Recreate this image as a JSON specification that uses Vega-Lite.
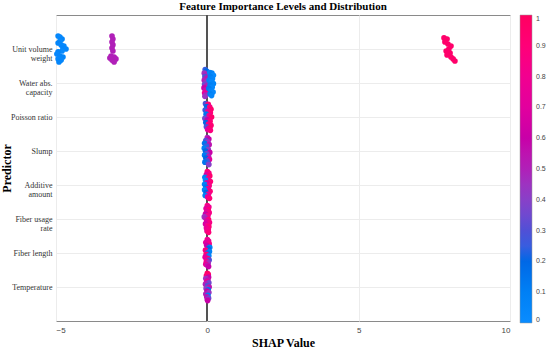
{
  "$schema": "https://vega.github.io/schema/vega-lite/v6.json",
  "width": 454,
  "height": 306,
  "autosize": {"type": "none"},
  "padding": {"left": 56, "top": 15, "right": 40, "bottom": 31},
  "background": "white",
  "title": {"text": "Feature Importance Levels and Distribution", "font": "Liberation Serif", "fontSize": 11, "fontWeight": "bold", "color": "#000", "offset": 3, "anchor": "middle"},
  "config": {
    "view": {"stroke": "#8a8a8a", "strokeWidth": 1},
    "axis": {"domain": false, "ticks": false, "gridColor": "#ececec", "gridWidth": 1}
  },
  "data": {"values": [
    {"f":"Unit volume weight","s":-4.93,"j":-0.93,"v":0.04},{"f":"Unit volume weight","s":-4.87,"j":-0.86,"v":0.03},{"f":"Unit volume weight","s":-4.80,"j":-0.71,"v":0.05},{"f":"Unit volume weight","s":-4.87,"j":-0.57,"v":0.02},{"f":"Unit volume weight","s":-4.93,"j":-0.43,"v":0.06},{"f":"Unit volume weight","s":-4.83,"j":-0.29,"v":0.04},{"f":"Unit volume weight","s":-4.74,"j":-0.21,"v":0.03},{"f":"Unit volume weight","s":-4.77,"j":-0.07,"v":0.05},{"f":"Unit volume weight","s":-4.67,"j":0.0,"v":0.04},{"f":"Unit volume weight","s":-4.80,"j":0.14,"v":0.02},{"f":"Unit volume weight","s":-4.93,"j":0.21,"v":0.05},{"f":"Unit volume weight","s":-4.97,"j":0.36,"v":0.03},{"f":"Unit volume weight","s":-4.87,"j":0.5,"v":0.04},{"f":"Unit volume weight","s":-4.77,"j":0.57,"v":0.06},{"f":"Unit volume weight","s":-4.93,"j":0.71,"v":0.03},{"f":"Unit volume weight","s":-4.83,"j":0.79,"v":0.04},{"f":"Unit volume weight","s":-4.90,"j":0.93,"v":0.05},
    {"f":"Unit volume weight","s":-3.15,"j":-0.93,"v":0.5},{"f":"Unit volume weight","s":-3.12,"j":-0.71,"v":0.5},{"f":"Unit volume weight","s":-3.15,"j":-0.5,"v":0.5},{"f":"Unit volume weight","s":-3.12,"j":-0.29,"v":0.5},{"f":"Unit volume weight","s":-3.15,"j":-0.07,"v":0.5},{"f":"Unit volume weight","s":-3.12,"j":0.14,"v":0.5},{"f":"Unit volume weight","s":-3.18,"j":0.5,"v":0.5},{"f":"Unit volume weight","s":-3.08,"j":0.57,"v":0.5},{"f":"Unit volume weight","s":-3.02,"j":0.71,"v":0.5},{"f":"Unit volume weight","s":-3.15,"j":0.79,"v":0.5},{"f":"Unit volume weight","s":-3.08,"j":0.93,"v":0.5},{"f":"Unit volume weight","s":-3.22,"j":0.64,"v":0.5},
    {"f":"Unit volume weight","s":7.82,"j":-0.79,"v":0.96},{"f":"Unit volume weight","s":7.92,"j":-0.71,"v":0.96},{"f":"Unit volume weight","s":7.85,"j":-0.5,"v":0.96},{"f":"Unit volume weight","s":7.95,"j":-0.36,"v":0.96},{"f":"Unit volume weight","s":8.05,"j":-0.21,"v":0.96},{"f":"Unit volume weight","s":7.98,"j":0.0,"v":0.96},{"f":"Unit volume weight","s":7.89,"j":0.14,"v":0.96},{"f":"Unit volume weight","s":8.02,"j":0.29,"v":0.96},{"f":"Unit volume weight","s":7.92,"j":0.43,"v":0.96},{"f":"Unit volume weight","s":8.05,"j":0.57,"v":0.96},{"f":"Unit volume weight","s":8.12,"j":0.71,"v":0.96},{"f":"Unit volume weight","s":8.18,"j":0.86,"v":0.96},
    {"f":"Water abs. capacity","s":-0.07,"j":-0.95,"v":0.25},{"f":"Water abs. capacity","s":-0.03,"j":-0.85,"v":0.2},{"f":"Water abs. capacity","s":-0.1,"j":-0.7,"v":0.45},{"f":"Water abs. capacity","s":-0.04,"j":-0.6,"v":0.5},{"f":"Water abs. capacity","s":-0.08,"j":-0.45,"v":0.3},{"f":"Water abs. capacity","s":-0.02,"j":-0.35,"v":0.55},{"f":"Water abs. capacity","s":-0.1,"j":-0.2,"v":0.5},{"f":"Water abs. capacity","s":-0.05,"j":-0.05,"v":0.45},{"f":"Water abs. capacity","s":-0.09,"j":0.1,"v":0.35},{"f":"Water abs. capacity","s":-0.03,"j":0.2,"v":0.5},{"f":"Water abs. capacity","s":-0.11,"j":0.35,"v":0.6},{"f":"Water abs. capacity","s":-0.06,"j":0.5,"v":0.55},{"f":"Water abs. capacity","s":-0.02,"j":0.6,"v":0.7},{"f":"Water abs. capacity","s":-0.09,"j":0.72,"v":0.75},{"f":"Water abs. capacity","s":-0.05,"j":0.85,"v":0.5},{"f":"Water abs. capacity","s":-0.08,"j":0.95,"v":0.45},
    {"f":"Water abs. capacity","s":0.08,"j":-0.75,"v":0.05},{"f":"Water abs. capacity","s":0.15,"j":-0.7,"v":0.08},{"f":"Water abs. capacity","s":0.2,"j":-0.55,"v":0.02},{"f":"Water abs. capacity","s":0.1,"j":-0.45,"v":0.1},{"f":"Water abs. capacity","s":0.17,"j":-0.3,"v":0.05},{"f":"Water abs. capacity","s":0.06,"j":-0.2,"v":0.08},{"f":"Water abs. capacity","s":0.13,"j":-0.1,"v":0.03},{"f":"Water abs. capacity","s":0.2,"j":0.05,"v":0.06},{"f":"Water abs. capacity","s":0.09,"j":0.15,"v":0.1},{"f":"Water abs. capacity","s":0.16,"j":0.3,"v":0.04},{"f":"Water abs. capacity","s":0.05,"j":0.4,"v":0.12},{"f":"Water abs. capacity","s":0.12,"j":0.55,"v":0.07},{"f":"Water abs. capacity","s":0.19,"j":0.65,"v":0.03},{"f":"Water abs. capacity","s":0.09,"j":0.78,"v":0.1},{"f":"Water abs. capacity","s":0.14,"j":0.9,"v":0.05},
    {"f":"Poisson ratio","s":-0.06,"j":-0.95,"v":0.3},{"f":"Poisson ratio","s":0.03,"j":-0.9,"v":0.9},{"f":"Poisson ratio","s":-0.02,"j":-0.75,"v":0.2},{"f":"Poisson ratio","s":0.08,"j":-0.7,"v":0.85},{"f":"Poisson ratio","s":0.12,"j":-0.55,"v":0.95},{"f":"Poisson ratio","s":-0.07,"j":-0.5,"v":0.25},{"f":"Poisson ratio","s":0.02,"j":-0.4,"v":0.75},{"f":"Poisson ratio","s":0.1,"j":-0.3,"v":0.9},{"f":"Poisson ratio","s":-0.04,"j":-0.2,"v":0.15},{"f":"Poisson ratio","s":0.06,"j":-0.1,"v":0.8},{"f":"Poisson ratio","s":0.14,"j":0.0,"v":0.95},{"f":"Poisson ratio","s":-0.08,"j":0.1,"v":0.35},{"f":"Poisson ratio","s":0.0,"j":0.2,"v":0.6},{"f":"Poisson ratio","s":0.09,"j":0.3,"v":0.9},{"f":"Poisson ratio","s":-0.05,"j":0.4,"v":0.2},{"f":"Poisson ratio","s":0.04,"j":0.5,"v":0.85},{"f":"Poisson ratio","s":0.12,"j":0.6,"v":0.92},{"f":"Poisson ratio","s":-0.03,"j":0.7,"v":0.3},{"f":"Poisson ratio","s":0.07,"j":0.8,"v":0.95},{"f":"Poisson ratio","s":0.01,"j":0.9,"v":0.7},{"f":"Poisson ratio","s":0.1,"j":0.95,"v":0.88},
    {"f":"Slump","s":0.0,"j":-0.95,"v":0.5},{"f":"Slump","s":0.05,"j":-0.85,"v":0.6},{"f":"Slump","s":-0.05,"j":-0.75,"v":0.3},{"f":"Slump","s":0.02,"j":-0.65,"v":0.45},{"f":"Slump","s":-0.09,"j":-0.55,"v":0.15},{"f":"Slump","s":0.06,"j":-0.45,"v":0.55},{"f":"Slump","s":-0.03,"j":-0.35,"v":0.25},{"f":"Slump","s":-0.1,"j":-0.2,"v":0.1},{"f":"Slump","s":0.03,"j":-0.1,"v":0.4},{"f":"Slump","s":-0.06,"j":0.0,"v":0.2},{"f":"Slump","s":0.08,"j":0.1,"v":0.6},{"f":"Slump","s":-0.02,"j":0.2,"v":0.35},{"f":"Slump","s":-0.09,"j":0.3,"v":0.12},{"f":"Slump","s":0.04,"j":0.4,"v":0.5},{"f":"Slump","s":-0.05,"j":0.5,"v":0.2},{"f":"Slump","s":0.07,"j":0.6,"v":0.7},{"f":"Slump","s":-0.01,"j":0.7,"v":0.3},{"f":"Slump","s":-0.08,"j":0.8,"v":0.15},{"f":"Slump","s":0.03,"j":0.9,"v":0.25},{"f":"Slump","s":0.05,"j":0.97,"v":0.4},
    {"f":"Additive amount","s":0.0,"j":-0.95,"v":0.9},{"f":"Additive amount","s":0.05,"j":-0.85,"v":0.85},{"f":"Additive amount","s":-0.03,"j":-0.75,"v":0.7},{"f":"Additive amount","s":0.08,"j":-0.65,"v":0.95},{"f":"Additive amount","s":-0.08,"j":-0.55,"v":0.1},{"f":"Additive amount","s":0.02,"j":-0.45,"v":0.8},{"f":"Additive amount","s":-0.06,"j":-0.35,"v":0.05},{"f":"Additive amount","s":0.1,"j":-0.25,"v":0.9},{"f":"Additive amount","s":-0.02,"j":-0.15,"v":0.65},{"f":"Additive amount","s":-0.09,"j":-0.05,"v":0.08},{"f":"Additive amount","s":0.06,"j":0.05,"v":0.85},{"f":"Additive amount","s":-0.05,"j":0.15,"v":0.15},{"f":"Additive amount","s":0.03,"j":0.25,"v":0.75},{"f":"Additive amount","s":-0.09,"j":0.35,"v":0.05},{"f":"Additive amount","s":0.09,"j":0.45,"v":0.9},{"f":"Additive amount","s":-0.04,"j":0.55,"v":0.2},{"f":"Additive amount","s":0.04,"j":0.65,"v":0.8},{"f":"Additive amount","s":-0.07,"j":0.75,"v":0.1},{"f":"Additive amount","s":0.01,"j":0.85,"v":0.7},{"f":"Additive amount","s":0.07,"j":0.95,"v":0.9},
    {"f":"Fiber usage rate","s":0.0,"j":-0.95,"v":0.85},{"f":"Fiber usage rate","s":0.05,"j":-0.85,"v":0.8},{"f":"Fiber usage rate","s":-0.04,"j":-0.75,"v":0.7},{"f":"Fiber usage rate","s":0.03,"j":-0.65,"v":0.9},{"f":"Fiber usage rate","s":-0.02,"j":-0.55,"v":0.75},{"f":"Fiber usage rate","s":0.06,"j":-0.45,"v":0.85},{"f":"Fiber usage rate","s":-0.06,"j":-0.35,"v":0.6},{"f":"Fiber usage rate","s":0.02,"j":-0.25,"v":0.8},{"f":"Fiber usage rate","s":-0.1,"j":-0.15,"v":0.45},{"f":"Fiber usage rate","s":-0.05,"j":-0.05,"v":0.5},{"f":"Fiber usage rate","s":0.04,"j":0.05,"v":0.9},{"f":"Fiber usage rate","s":-0.02,"j":0.15,"v":0.7},{"f":"Fiber usage rate","s":0.07,"j":0.25,"v":0.85},{"f":"Fiber usage rate","s":-0.06,"j":0.35,"v":0.65},{"f":"Fiber usage rate","s":0.01,"j":0.45,"v":0.8},{"f":"Fiber usage rate","s":0.05,"j":0.55,"v":0.9},{"f":"Fiber usage rate","s":-0.03,"j":0.65,"v":0.75},{"f":"Fiber usage rate","s":0.03,"j":0.75,"v":0.85},{"f":"Fiber usage rate","s":-0.01,"j":0.85,"v":0.8},{"f":"Fiber usage rate","s":0.04,"j":0.95,"v":0.9},
    {"f":"Fiber length","s":0.0,"j":-0.95,"v":0.8},{"f":"Fiber length","s":0.04,"j":-0.85,"v":0.75},{"f":"Fiber length","s":-0.05,"j":-0.75,"v":0.7},{"f":"Fiber length","s":0.06,"j":-0.65,"v":0.85},{"f":"Fiber length","s":-0.02,"j":-0.55,"v":0.6},{"f":"Fiber length","s":0.08,"j":-0.4,"v":0.1},{"f":"Fiber length","s":0.03,"j":-0.3,"v":0.2},{"f":"Fiber length","s":-0.06,"j":-0.2,"v":0.85},{"f":"Fiber length","s":0.07,"j":-0.1,"v":0.08},{"f":"Fiber length","s":0.0,"j":0.0,"v":0.15},{"f":"Fiber length","s":-0.04,"j":0.1,"v":0.9},{"f":"Fiber length","s":0.05,"j":0.2,"v":0.05},{"f":"Fiber length","s":-0.07,"j":0.3,"v":0.7},{"f":"Fiber length","s":0.02,"j":0.4,"v":0.85},{"f":"Fiber length","s":0.06,"j":0.5,"v":0.3},{"f":"Fiber length","s":-0.03,"j":0.6,"v":0.8},{"f":"Fiber length","s":0.03,"j":0.7,"v":0.45},{"f":"Fiber length","s":-0.05,"j":0.8,"v":0.75},{"f":"Fiber length","s":0.01,"j":0.9,"v":0.55},{"f":"Fiber length","s":0.04,"j":0.97,"v":0.6},
    {"f":"Temperature","s":0.0,"j":-0.97,"v":0.98},{"f":"Temperature","s":0.03,"j":-0.9,"v":0.95},{"f":"Temperature","s":-0.03,"j":-0.8,"v":0.92},{"f":"Temperature","s":0.04,"j":-0.7,"v":0.6},{"f":"Temperature","s":-0.05,"j":-0.6,"v":0.45},{"f":"Temperature","s":0.02,"j":-0.5,"v":0.55},{"f":"Temperature","s":-0.02,"j":-0.4,"v":0.7},{"f":"Temperature","s":0.05,"j":-0.3,"v":0.35},{"f":"Temperature","s":-0.06,"j":-0.2,"v":0.5},{"f":"Temperature","s":0.01,"j":-0.1,"v":0.3},{"f":"Temperature","s":0.06,"j":0.0,"v":0.55},{"f":"Temperature","s":-0.04,"j":0.1,"v":0.4},{"f":"Temperature","s":0.03,"j":0.2,"v":0.15},{"f":"Temperature","s":-0.01,"j":0.3,"v":0.6},{"f":"Temperature","s":0.05,"j":0.4,"v":0.45},{"f":"Temperature","s":-0.05,"j":0.5,"v":0.5},{"f":"Temperature","s":0.02,"j":0.6,"v":0.1},{"f":"Temperature","s":-0.02,"j":0.7,"v":0.55},{"f":"Temperature","s":0.04,"j":0.8,"v":0.35},{"f":"Temperature","s":0.0,"j":0.9,"v":0.5},{"f":"Temperature","s":0.01,"j":0.97,"v":0.6}
  ]},
  "layer": [
    {
      "mark": {"type": "rule", "color": "#555555", "strokeWidth": 1},
      "encoding": {"x": {"datum": 0}}
    },
    {
      "mark": {"type": "circle", "size": 32, "opacity": 1},
      "encoding": {
        "x": {"field": "s", "type": "quantitative", "scale": {"domain": [-5, 10], "nice": false, "zero": false},
              "axis": {"title": "SHAP Value", "values": [-5, 0, 5, 10], "labelFont": "Liberation Sans", "labelFontSize": 8, "labelColor": "#444", "labelPadding": 5,
                       "titleFont": "Liberation Serif", "titleFontSize": 12, "titleFontWeight": "bold", "titleColor": "#000", "titlePadding": 3, "grid": true}},
        "y": {"field": "f", "type": "nominal", "sort": ["Unit volume weight", "Water abs. capacity", "Poisson ratio", "Slump", "Additive amount", "Fiber usage rate", "Fiber length", "Temperature"],
              "scale": {"type": "point", "padding": 1},
              "axis": {"title": "Predictor", "labelFont": "Liberation Serif", "labelFontSize": 8, "labelColor": "#333333", "labelPadding": 4, "labelLineHeight": 9,
                       "labelExpr": "datum.value == 'Unit volume weight' ? ['Unit volume', 'weight'] : datum.value == 'Water abs. capacity' ? ['Water abs.', 'capacity'] : datum.value == 'Additive amount' ? ['Additive', 'amount'] : datum.value == 'Fiber usage rate' ? ['Fiber usage', 'rate'] : datum.value",
                       "titleFont": "Liberation Serif", "titleFontSize": 12, "titleFontWeight": "bold", "titleColor": "#000", "titleX": -43, "titleY": 153, "titleAnchor": "middle", "grid": true}},
        "yOffset": {"field": "j", "type": "quantitative", "scale": {"domain": [-1, 1], "range": [-14, 14]}},
        "color": {"field": "v", "type": "quantitative",
                  "scale": {"domain": [0, 0.1, 0.2, 0.3, 0.4, 0.5, 0.6, 0.7, 0.8, 0.9, 1],
                            "range": ["#0a8cff", "#0080f5", "#0068e6", "#5050d6", "#8840c8", "#b020b8", "#c800a8", "#e2009e", "#f20090", "#ff0078", "#ff0060"]},
                  "legend": {"title": null, "orient": "right", "offset": 10, "gradientLength": 308, "gradientThickness": 12, "values": [0, 0.1, 0.2, 0.3, 0.4, 0.5, 0.6, 0.7, 0.8, 0.9, 1], "format": ".1~f",
                             "labelFont": "Liberation Sans", "labelFontSize": 7, "labelColor": "#444", "gradientStrokeColor": "#999", "gradientStrokeWidth": 0.5, "labelOffset": 4}}
      }
    }
  ]
}
